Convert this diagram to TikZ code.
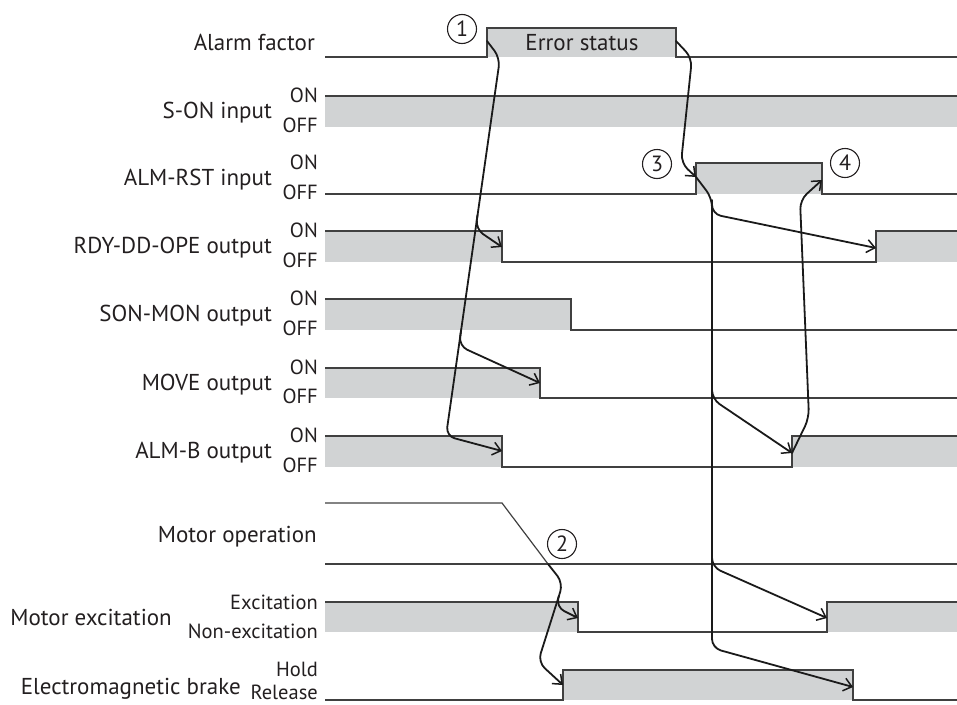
\documentclass[tikz,border=0pt]{standalone}
\usepackage{fontspec}
\setmainfont{PT Sans}
\usetikzlibrary{arrows.meta}
\definecolor{gfill}{HTML}{D1D3D4}
\definecolor{tline}{HTML}{404040}
\definecolor{cline}{HTML}{1A1A1A}
\definecolor{txt}{HTML}{231F20}
\begin{document}
\begin{tikzpicture}[x=1pt,y=-1pt,
  trace/.style={draw=tline, line width=1.2pt},
  area/.style={fill=gfill},
  conn/.style={draw=cline, line width=1.8pt, rounded corners=9pt, line cap=round},
  arr/.style={-{Straight Barb[length=8pt,width=13pt,line width=1.5pt]}},
  sname/.style={anchor=base east, inner sep=0pt, font=\fontsize{23}{23}\selectfont, text=txt},
  lvl/.style={anchor=base east, inner sep=0pt, font=\fontsize{20.5}{20.5}\selectfont, text=txt},
  num/.style={circle, draw=txt, line width=1.1pt, minimum size=29pt, inner sep=0pt, font=\fontsize{22}{22}\selectfont, text=txt}]
\useasboundingbox (0,0) rectangle (957,704);

% ---------- waveforms ----------
% Alarm factor
\fill[area] (487,28) rectangle (676,57);
\draw[trace] (325,57) -- (487,57) -- (487,28) -- (676,28) -- (676,57) -- (957,57);
% S-ON input
\fill[area] (325,96) rectangle (957,127);
\draw[trace] (325,96) -- (957,96);
% ALM-RST input
\fill[area] (696,163) rectangle (822,194);
\draw[trace] (325,194) -- (696,194) -- (696,163) -- (822,163) -- (822,194) -- (957,194);
% RDY-DD-OPE output
\fill[area] (325,231) rectangle (502,262);
\fill[area] (876,231) rectangle (957,262);
\draw[trace] (325,231) -- (502,231) -- (502,262) -- (876,262) -- (876,231) -- (957,231);
% SON-MON output
\fill[area] (325,299) rectangle (571,330);
\draw[trace] (325,299) -- (571,299) -- (571,330) -- (957,330);
% MOVE output
\fill[area] (325,368) rectangle (540,398);
\draw[trace] (325,368) -- (540,368) -- (540,398) -- (957,398);
% ALM-B output
\fill[area] (325,436) rectangle (502,467);
\fill[area] (792,436) rectangle (957,467);
\draw[trace] (325,436) -- (502,436) -- (502,467) -- (792,467) -- (792,436) -- (957,436);
% Motor operation
\draw[trace] (325,503) -- (502,503) -- (548,564);
\draw[trace] (325,564) -- (957,564);
% Motor excitation
\fill[area] (325,602) rectangle (578,632);
\fill[area] (827,602) rectangle (957,632);
\draw[trace] (325,602) -- (578,602) -- (578,632) -- (827,632) -- (827,602) -- (957,602);
% Electromagnetic brake
\fill[area] (563,670) rectangle (853,700);
\draw[trace] (325,700) -- (563,700) -- (563,670) -- (853,670) -- (853,700) -- (957,700);

% ---------- labels ----------
\node[sname] (lAF) at (315,50.5) {Alarm factor};
\node[font=\fontsize{23}{23}\selectfont, text=txt, inner sep=0pt] (lES) at (582,43) {Error status};

\node[sname] (lSON) at (272,118.5) {S-ON input};
\node[lvl] (lSON1) at (318,102) {ON};
\node[lvl] (lSON0) at (318,132) {OFF};

\node[sname] (lRST) at (272,185.5) {ALM-RST input};
\node[lvl] (lRST1) at (318,169) {ON};
\node[lvl] (lRST0) at (318,199) {OFF};

\node[sname] (lRDY) at (272,253.5) {RDY-DD-OPE output};
\node[lvl] (lRDY1) at (318,237) {ON};
\node[lvl] (lRDY0) at (318,267) {OFF};

\node[sname] (lSM) at (272,321.5) {SON-MON output};
\node[lvl] (lSM1) at (318,305) {ON};
\node[lvl] (lSM0) at (318,335) {OFF};

\node[sname] (lMV) at (272,390) {MOVE output};
\node[lvl] (lMV1) at (318,374) {ON};
\node[lvl] (lMV0) at (318,403) {OFF};

\node[sname] (lAB) at (272,458.5) {ALM-B output};
\node[lvl] (lAB1) at (318,442) {ON};
\node[lvl] (lAB0) at (318,472) {OFF};

\node[sname] (lMO) at (317,542) {Motor operation};

\node[sname] (lME) at (172,625) {Motor excitation};
\node[lvl] (lME1) at (318,609) {Excitation};
\node[lvl] (lME0) at (318,638) {Non-excitation};

\node[sname] (lEB) at (241,694) {Electromagnetic brake};
\node[lvl] (lEB1) at (318,676) {Hold};
\node[lvl] (lEB0) at (318,699) {Release};

% ---------- step numbers ----------
\node[num] (n1) at (462,29) {1};
\node[num] (n2) at (562,544) {2};
\node[num] (n3) at (657,164) {3};
\node[num] (n4) at (845,163) {4};

% ---------- edge points ----------
\coordinate (afR) at (487,41);
\coordinate (afF) at (676,41);
\coordinate (rstR) at (696,177);
\coordinate (rstF) at (822,180);
\coordinate (rdyF) at (502,247);
\coordinate (rdyR) at (876,248);
\coordinate (mvF) at (540,383);
\coordinate (abF) at (502,451);
\coordinate (abR) at (792,453);
\coordinate (moE) at (548,564);
\coordinate (exF) at (578,618);
\coordinate (exR) at (827,618);
\coordinate (brR) at (563,685);
\coordinate (brF) at (853,687);

% ---------- connectors ----------
% (1) alarm -> RDY, MOVE, ALM-B
\draw[conn,arr] (afR) -- (500,58) -- (446,436) -- (abF);
\draw[conn,arr] (477.5,215) -- (475.6,229) -- (rdyF);
\draw[conn,arr] (461.1,330) -- (459,346) -- (mvF);
% alarm cleared -> ALM-RST (3)
\draw[conn,arr] (afF) -- (692,58) -- (681,163) -- (rstR);
% ALM-RST ON -> RDY, ALM-B, excitation, brake
\draw[conn,arr] (rstR) -- (712,198) -- (712,648) -- (brF);
\draw[conn,arr] (712,200) -- (712,214) -- (rdyR);
\draw[conn,arr] (712,385) -- (712,399) -- (abR);
\draw[conn,arr] (712,553) -- (712,567) -- (exR);
% ALM-B ON -> ALM-RST OFF (4)
\draw[conn,arr] (abR) -- (809,418) -- (800,200) -- (rstF);
% (2) motor stop -> excitation, brake
\draw[conn,arr] (moE) -- (563,583) -- (538,662) -- (brR);
\draw[conn,arr] (558.9,596) -- (556,607) -- (exF);
\end{tikzpicture}
\end{document}
